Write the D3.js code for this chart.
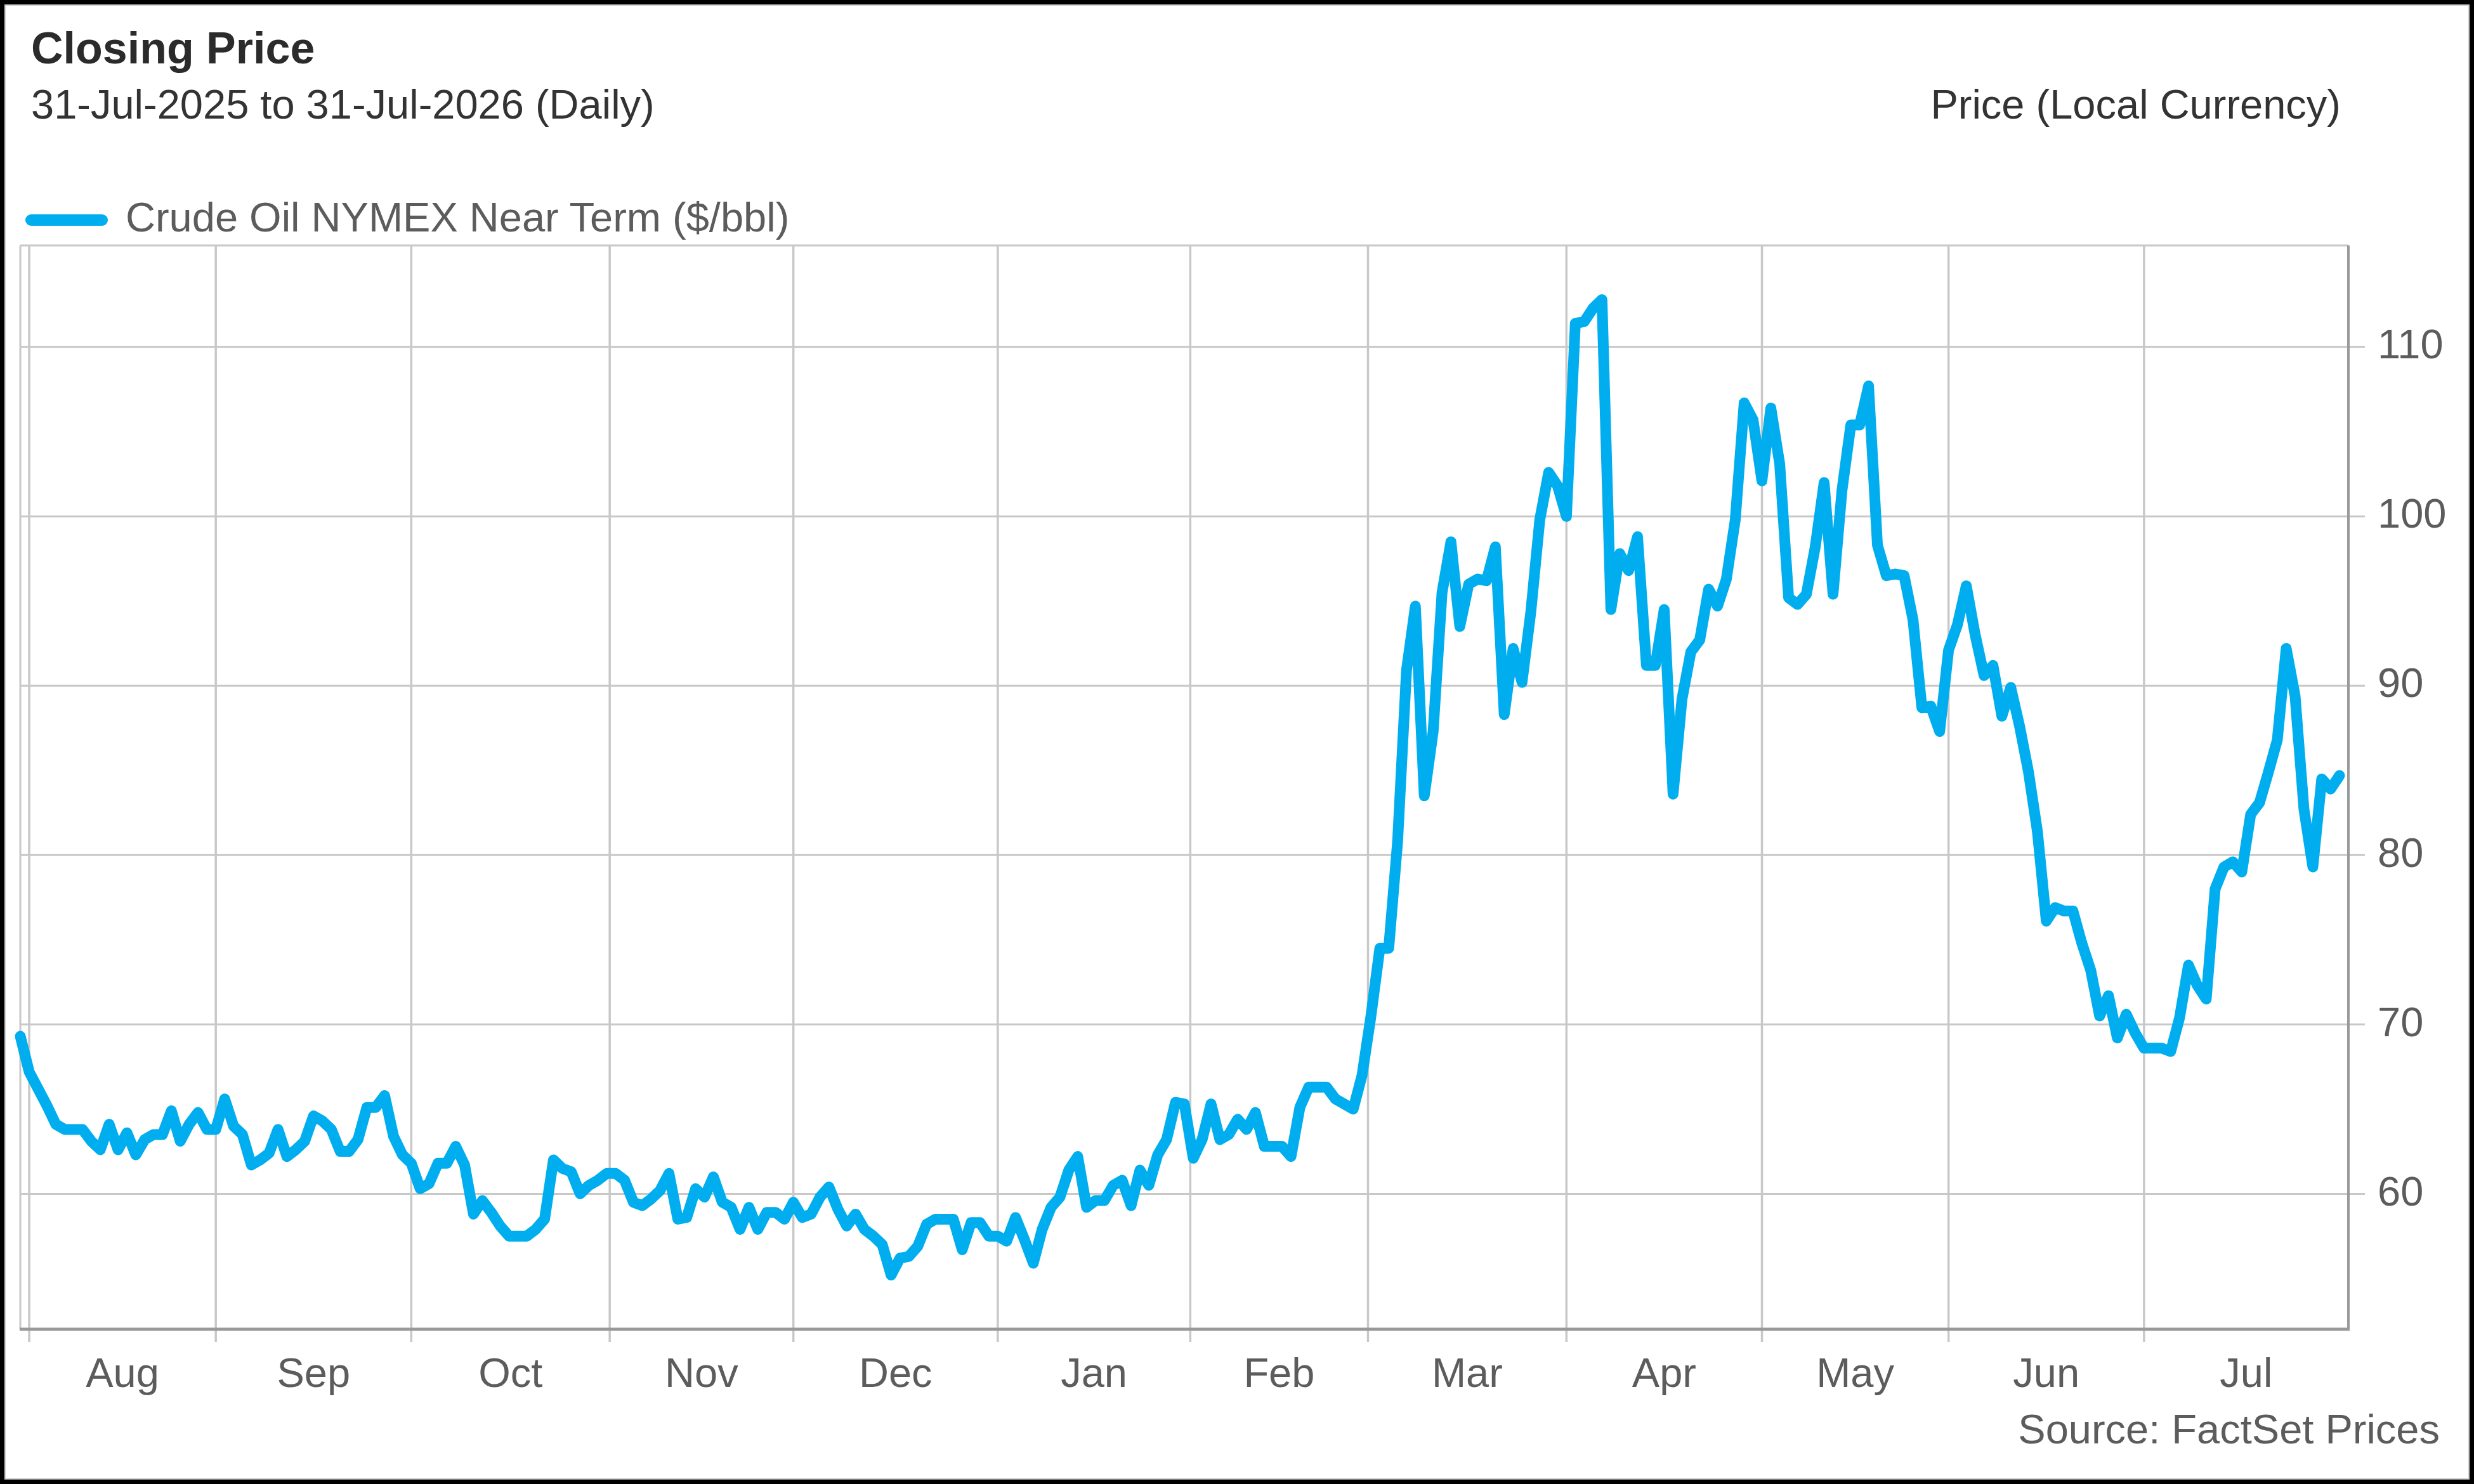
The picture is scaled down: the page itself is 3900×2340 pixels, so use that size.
<!DOCTYPE html>
<html>
<head>
<meta charset="utf-8">
<script src="https://cdn.jsdelivr.net/npm/d3@7"></script>
<style>
  html, body { margin: 0; padding: 0; background: #fff; }
  svg { display: block; }
  text { font-family: "Liberation Sans", Arial, sans-serif; }
</style>
</head>
<body>
<div id="chart"></div>
<script>
// Daily (weekday) closes, starting 31-Jul-2025
const firstDay = "2025-07-31";
const closesJul25 = [69.3];
const closesAug = [67.2, 66.2, 65.2, 64.1, 63.8, 63.8, 63.8, 63.1, 62.6, 64.1, 62.6, 63.6, 62.3, 63.2, 63.5, 63.5, 64.9, 63.1, 64.1, 64.8, 63.8];
const closesSep = [63.8, 65.6, 64.0, 63.5, 61.7, 62.0, 62.4, 63.8, 62.2, 62.6, 63.1, 64.6, 64.3, 63.8, 62.5, 62.5, 63.2, 65.1, 65.1, 65.8, 63.4, 62.3];
const closesOct = [61.8, 60.3, 60.6, 61.8, 61.8, 62.8, 61.7, 58.8, 59.6, 58.9, 58.1, 57.5, 57.5, 57.5, 57.9, 58.5, 62.0, 61.5, 61.3, 60.0, 60.5, 60.8, 61.2];
const closesNov = [61.2, 60.8, 59.5, 59.3, 59.7, 60.2, 61.2, 58.5, 58.6, 60.3, 59.8, 61.0, 59.5, 59.2, 57.9, 59.2, 57.9, 58.9, 58.9, 58.5];
const closesDec = [59.5, 58.6, 58.8, 59.8, 60.4, 59.1, 58.1, 58.8, 57.9, 57.5, 57.0, 55.2, 56.2, 56.3, 56.9, 58.2, 58.5, 58.5, 58.5, 56.7, 58.3, 58.3, 57.5];
const closesJan = [57.5, 57.2, 58.6, 57.3, 55.9, 57.9, 59.2, 59.8, 61.4, 62.2, 59.2, 59.6, 59.6, 60.5, 60.8, 59.3, 61.4, 60.5, 62.3, 63.2, 65.4, 65.3];
const closesFeb = [62.1, 63.2, 65.3, 63.2, 63.5, 64.4, 63.8, 64.8, 62.8, 62.8, 62.8, 62.2, 65.1, 66.3, 66.3, 66.3, 65.6, 65.3, 65.0, 67.0];
const closesMar = [70.5, 74.5, 74.5, 80.8, 90.9, 94.7, 83.5, 87.3, 95.5, 98.5, 93.5, 96.0, 96.3, 96.2, 98.2, 88.3, 92.2, 90.2, 94.4, 99.8, 102.6, 101.8];
const closesApr = [100.0, 111.4, 111.5, 112.3, 112.8, 94.5, 97.8, 96.8, 98.8, 91.2, 91.2, 94.5, 83.6, 89.2, 92.0, 92.7, 95.7, 94.7, 96.3, 99.8, 106.7, 105.7];
const closesMay = [102.1, 106.4, 103.1, 95.2, 94.8, 95.4, 98.2, 102.0, 95.4, 101.5, 105.4, 105.4, 107.7, 98.3, 96.5, 96.6, 96.5, 93.9, 88.7, 88.8, 87.3];
const closesJun = [92.1, 93.6, 95.9, 93.0, 90.6, 91.2, 88.2, 89.9, 87.6, 84.9, 81.4, 76.1, 76.9, 76.7, 76.7, 74.8, 73.2, 70.5, 71.7, 69.2, 70.6, 69.5];
const closesJul = [68.6, 68.6, 68.6, 68.4, 70.4, 73.5, 72.3, 71.5, 78.0, 79.3, 79.6, 79.0, 82.4, 83.1, 84.9, 86.8, 92.2, 89.4, 82.7, 79.3, 84.5, 83.9, 84.7];

const yTicks = [60, 70, 80, 90, 100, 110];
const yDomain = [52, 116];
const seriesName = "Crude Oil NYMEX Near Term ($/bbl)";

const W = 3900, H = 2340;
const plot = { left: 32, right: 3702, top: 387, bottom: 2096 };
const fontSize = 65;
const lineColor = "#00aeef";
const gridColor = "#c8c8c8";
const axisColor = "#999";
const labelColor = "#5c5c5c";

const closes = [].concat(closesJul25, closesAug, closesSep, closesOct, closesNov, closesDec,
    closesJan, closesFeb, closesMar, closesApr, closesMay, closesJun, closesJul);

// weekday dates for each close
const start = d3.utcParse("%Y-%m-%d")(firstDay);
const dates = [];
let d = start;
while (dates.length < closes.length) {
    const wd = d.getUTCDay();
    if (wd !== 0 && wd !== 6) dates.push(d);
    d = d3.utcDay.offset(d, 1);
}
const data = closes.map((v, i) => ({ i: i, date: dates[i], value: v }));

const svg = d3.select("#chart").append("svg")
    .attr("width", W)
    .attr("height", H);

svg.append("rect").attr("width", W).attr("height", H).attr("fill", "#fff");

// x is by trading slot, y by price
const x = d3.scaleLinear().domain([0, closes.length]).range([plot.left, plot.right]);
const y = d3.scaleLinear().domain(yDomain).range([plot.bottom, plot.top]);

// month boundaries as fractional slot positions (weekend starts fall between Fri and Mon)
const months = d3.utcMonth.range(d3.utcMonth.ceil(d3.utcDay.offset(start, 1)), dates[dates.length - 1]);
function slotOf(m) {
    const k = d3.bisectRight(dates, m) - 1;
    if (+dates[k] === +m || k >= dates.length - 1) return k;
    return k + (m - dates[k]) / (dates[k + 1] - dates[k]);
}
const bounds = months.map(m => x(slotOf(m)));
const edges = bounds.concat([plot.right]);

// outer frame
svg.append("rect")
    .attr("x", 3.5).attr("y", 3.5)
    .attr("width", W - 7).attr("height", H - 7)
    .attr("fill", "none")
    .attr("stroke", "#000")
    .attr("stroke-width", 7);
svg.append("rect")
    .attr("x", 8).attr("y", 8)
    .attr("width", W - 16).attr("height", H - 16)
    .attr("fill", "none")
    .attr("stroke", "#cfcfcf")
    .attr("stroke-width", 2);

// title block
svg.append("text")
    .attr("x", 49).attr("y", 100)
    .attr("font-size", 70)
    .attr("font-weight", "bold")
    .attr("fill", "#2b2b2b")
    .text("Closing Price");
svg.append("text")
    .attr("x", 49).attr("y", 187)
    .attr("font-size", fontSize)
    .attr("fill", "#333")
    .text("31-Jul-2025 to 31-Jul-2026 (Daily)");
svg.append("text")
    .attr("x", 3690).attr("y", 187)
    .attr("text-anchor", "end")
    .attr("font-size", fontSize)
    .attr("fill", "#333")
    .text("Price (Local Currency)");

// legend
svg.append("line")
    .attr("x1", 49).attr("x2", 161)
    .attr("y1", 347).attr("y2", 347)
    .attr("stroke", lineColor)
    .attr("stroke-width", 18)
    .attr("stroke-linecap", "round");
svg.append("text")
    .attr("x", 198).attr("y", 365)
    .attr("font-size", fontSize)
    .attr("fill", labelColor)
    .text(seriesName);

// grid
const grid = svg.append("g").attr("class", "grid");
grid.selectAll(".vgrid")
    .data(bounds)
    .enter().append("line")
    .attr("class", "vgrid")
    .attr("x1", b => b).attr("x2", b => b)
    .attr("y1", plot.top).attr("y2", plot.bottom + 20)
    .attr("stroke", gridColor)
    .attr("stroke-width", 3.5);
grid.selectAll(".hgrid")
    .data(yTicks)
    .enter().append("line")
    .attr("class", "hgrid")
    .attr("x1", plot.left).attr("x2", plot.right + 26)
    .attr("y1", v => y(v)).attr("y2", v => y(v))
    .attr("stroke", gridColor)
    .attr("stroke-width", 3);

// plot frame: light top/left, darker axes
grid.append("line")
    .attr("x1", plot.left).attr("x2", plot.right)
    .attr("y1", plot.top).attr("y2", plot.top)
    .attr("stroke", gridColor).attr("stroke-width", 3);
grid.append("line")
    .attr("x1", plot.left).attr("x2", plot.left)
    .attr("y1", plot.top).attr("y2", plot.bottom)
    .attr("stroke", gridColor).attr("stroke-width", 3);
svg.append("line")
    .attr("x1", plot.right).attr("x2", plot.right)
    .attr("y1", plot.top).attr("y2", plot.bottom)
    .attr("stroke", axisColor).attr("stroke-width", 4);
svg.append("line")
    .attr("x1", plot.left - 1).attr("x2", plot.right + 2)
    .attr("y1", plot.bottom).attr("y2", plot.bottom)
    .attr("stroke", axisColor).attr("stroke-width", 5);

// price line
const line = d3.line()
    .x(p => x(p.i))
    .y(p => y(p.value));
svg.append("path")
    .datum(data)
    .attr("d", line)
    .attr("fill", "none")
    .attr("stroke", lineColor)
    .attr("stroke-width", 17)
    .attr("stroke-linejoin", "round")
    .attr("stroke-linecap", "round");

// y labels (right)
svg.selectAll(".ylabel")
    .data(yTicks)
    .enter().append("text")
    .attr("class", "ylabel")
    .attr("x", 3748)
    .attr("y", v => y(v))
    .attr("dy", "0.28em")
    .attr("font-size", fontSize)
    .attr("fill", labelColor)
    .text(v => v);

// month labels centred in each month
const fmt = d3.utcFormat("%b");
svg.selectAll(".xlabel")
    .data(months)
    .enter().append("text")
    .attr("class", "xlabel")
    .attr("x", (m, k) => (edges[k] + edges[k + 1]) / 2)
    .attr("y", 2187)
    .attr("text-anchor", "middle")
    .attr("font-size", fontSize)
    .attr("fill", labelColor)
    .text(m => fmt(m));

svg.append("text")
    .attr("x", 3846).attr("y", 2276)
    .attr("text-anchor", "end")
    .attr("font-size", fontSize)
    .attr("fill", labelColor)
    .text("Source: FactSet Prices");
</script>
</body>
</html>
